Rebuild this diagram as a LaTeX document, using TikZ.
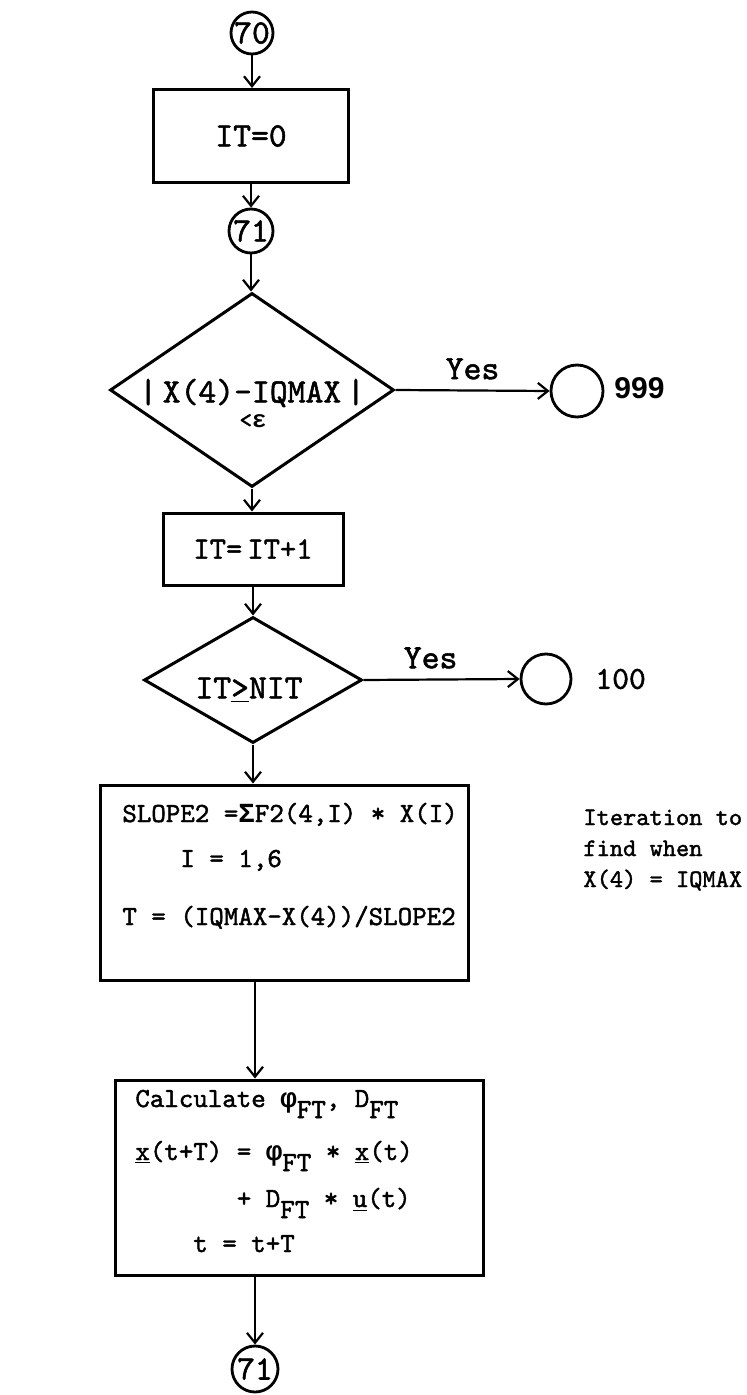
\documentclass[tikz,border=0pt]{standalone}
\usepackage{fontspec}
\newfontfamily\tw{lmmono10-regular.otf}[FakeBold=1.6]
\newfontfamily\libm{Liberation Mono}
\newfontfamily\sansb{Liberation Sans}
\usetikzlibrary{arrows.meta,shapes.geometric}
\newcommand{\lowsub}[1]{\raisebox{-0.4em}{#1}}
\newcommand{\gk}[1]{{\libm\bfseries #1}}
\begin{document}
\begin{tikzpicture}[x=0.5pt,y=-0.5pt,
  arr/.style={line width=1.1pt,-{Straight Barb[length=5pt,width=8pt,line width=1.1pt]}},
  conn/.style={circle,draw,line width=1.4pt,inner sep=0pt},
  box/.style={rectangle,draw,line width=1.5pt,inner sep=0pt},
  dia/.style={diamond,draw,line width=1.5pt,inner sep=0pt},
  ttbig/.style={font=\tw\fontsize{17pt}{20pt}\selectfont,inner sep=0pt},
  ttmid/.style={font=\tw\fontsize{15.5pt}{18pt}\selectfont,inner sep=0pt},
  ttsm/.style={font=\tw\fontsize{13.8pt}{16pt}\selectfont,inner sep=0pt,anchor=base west},
  ttnote/.style={font=\tw\fontsize{12.6pt}{15pt}\selectfont,inner sep=0pt,anchor=base west},
  clab/.style={font=\tw\fontsize{17pt}{19pt}\selectfont},
]
\path[use as bounding box,fill=white] (0,0) rectangle (747,1395);

% connectors and boxes
\node[conn,minimum size=21pt,clab] (c70) at (252,33) {70};
\node[box,minimum width=97.5pt,minimum height=46.5pt,ttbig] (b1) at (251,136) {IT=0};
\node[conn,minimum size=22pt,clab] (c71) at (251,231) {71};
\node[dia,minimum width=142pt,minimum height=97pt] (d1) at (252,390) {};
\node[ttbig] (t1) at (252,393) {|\,X(4)-IQMAX\,|};
\node[font=\tw\fontsize{12pt}{14pt}\selectfont,inner sep=0pt] (t1b) at (253,421) {<\gk{ε}};
\node[conn,minimum size=26pt] (c999) at (577,391) {};
\node[anchor=west,font=\sansb\bfseries\fontsize{15pt}{18pt}\selectfont,inner sep=0pt] (l999) at (614,388) {999};

\node[box,minimum width=90pt,minimum height=36pt,ttmid] (b2) at (253,549) {IT=\,IT+1};
\node[dia,minimum width=109pt,minimum height=63pt] (d2) at (253,680) {};
\node[ttbig] (t2) at (249,690) {IT\underline{>}NIT};
\node[conn,minimum size=25pt] (c100) at (546,679) {};
\node[anchor=west,font=\tw\fontsize{16pt}{18pt}\selectfont,inner sep=0pt] (l100) at (595,679) {100};

% slope box
\node[box,minimum width=184pt,minimum height=97.5pt] (b3) at (284,882.5) {};
\node[ttsm] (s1) at (122,822) {SLOPE2 =\gk{Σ}F2(4,I) * X(I)};
\node[ttsm] (s2) at (180,867) {I = 1,6};
\node[ttsm] (s3) at (122,925) {T = (IQMAX-X(4))/SLOPE2};
\node[ttnote] (n1) at (583,825) {Iteration to};
\node[ttnote] (n2) at (583,856) {find when};
\node[ttnote] (n3) at (583,887) {X(4) = IQMAX};

% calculate box
\node[box,minimum width=184pt,minimum height=97.5pt] (b4) at (299,1177.5) {};
\node[ttsm] (k1) at (135,1107) {Calculate \gk{φ}\lowsub{FT}, D\lowsub{FT}};
\node[ttsm] (k2) at (135,1160) {\underline{x}(t+T) = \gk{φ}\lowsub{FT} * \underline{x}(t)};
\node[ttsm] (k3) at (135,1207) {\phantom{xxxxxxx}+ D\lowsub{FT} * \underline{u}(t)};
\node[ttsm] (k4) at (135,1252) {\phantom{xxxx}t = t+T};
\node[conn,minimum size=23pt,clab] (c71b) at (255,1369) {71};

\coordinate (sx) at (255,0);

% flow
\draw[arr] (c70.south) -- (c70.south |- b1.north);
\draw[arr] (c71.north |- b1.south) -- (c71.north);
\draw[arr] (c71.south) -- (c71.south |- d1.north);
\draw[arr] (d1.east) -- node[above=5pt,ttbig] {Yes} (c999.west);
\draw[arr] (d1.south) -- (d1.south |- b2.north);
\draw[arr] (d2.north |- b2.south) -- (d2.north);
\draw[arr] (d2.east) -- node[above=5pt,ttbig,pos=0.43] {Yes} (c100.west);
\draw[arr] (d2.south) -- (d2.south |- b3.north);
\draw[arr] (sx |- b3.south) -- (sx |- b4.north);
\draw[arr] (sx |- b4.south) -- (c71b.north);
\end{tikzpicture}
\end{document}
